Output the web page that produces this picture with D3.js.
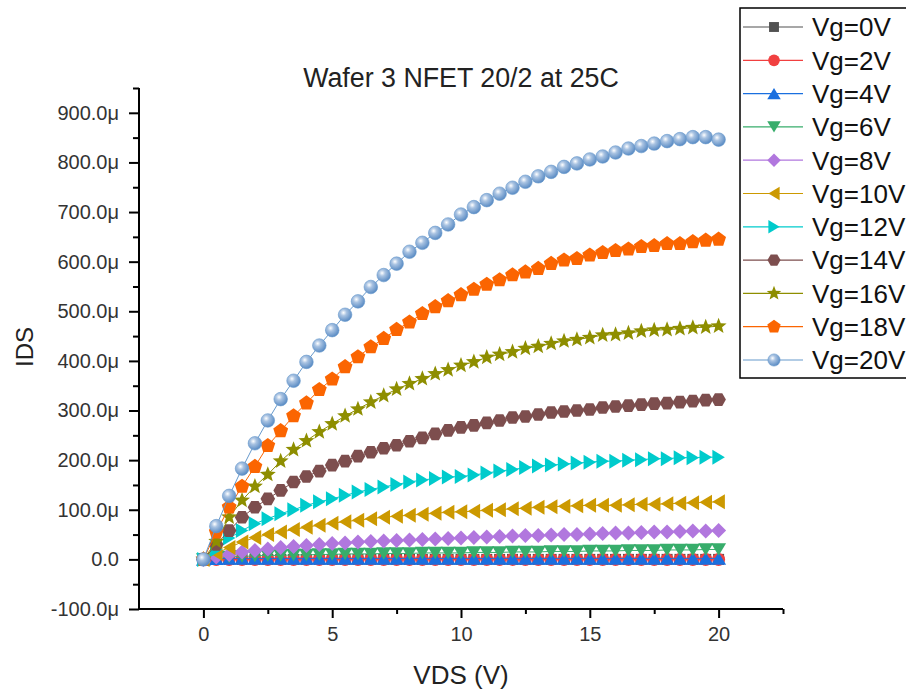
<!DOCTYPE html>
<html>
<head>
<meta charset="utf-8">
<script src="https://cdn.jsdelivr.net/npm/d3@7"></script>
<style>
  html, body { margin: 0; padding: 0; background: #fff; }
  svg { display: block; font-family: "Liberation Sans", Arial, sans-serif; }
</style>
</head>
<body>
<svg id="chart" width="906" height="691"></svg>
<script>
// ---------------- DATA ----------------
const title = "Wafer 3 NFET 20/2 at 25C";
const xLabel = "VDS (V)";
const yLabel = "IDS";
const vds = [0, 0.5, 1, 1.5, 2, 2.5, 3, 3.5, 4, 4.5, 5, 5.5, 6, 6.5, 7, 7.5, 8, 8.5, 9, 9.5,
             10, 10.5, 11, 11.5, 12, 12.5, 13, 13.5, 14, 14.5, 15, 15.5, 16, 16.5, 17, 17.5,
             18, 18.5, 19, 19.5, 20];
const seriesNames = ["Vg=0V", "Vg=2V", "Vg=4V", "Vg=6V", "Vg=8V", "Vg=10V",
                     "Vg=12V", "Vg=14V", "Vg=16V", "Vg=18V", "Vg=20V"];
// IDS in microamps
const ids0V  = [0,0,0,0,0,0,0,0,0,0,0,0,0,0,0,0,0,0,0,0,0,0,0,0,0,0,0,0,0,0,0,0,0,0,0,0,0,0,0,0,0];
const ids2V  = [0,0,0,0,0,0,0,0,0,0,0,0,0,0,0,0,0,0,0,0,0,0,0,0,0,0,0,0,0,0,0,0,0,0,0,0,0,0,0,0,0];
const ids4V  = [0,1.5,2,2,2,2,2,2,2,2,2,2,2,2,2,2,2,2,2,2,2,2,2,2,2,2,2,2,2,2,2,2,2,2,2,2,2,2,2,2,2];
const ids6V  = [0,3,5,6,7,8,8,9,9,10,10,11,11,11,12,12,12,13,13,13,13,14,14,14,15,15,15,16,16,16,17,17,17,18,18,18,19,19,19,20,20];
const ids8V  = [0,5,10,15,18,21,24,26,28,30,32,33,35,36,37,38,39,40,41,42,43,44,45,46,47,48,48,49,50,50,51,52,53,53,54,55,55,56,57,57,58];
const ids10V = [0,12,24,35,44,50,55,60,65,69,73,76,79,82,85,87,89,91,93,95,96,97,99,100,102,103,105,106,107,108,109,109,109,110,111,111,112,113,114,115,116];
const ids12V = [0,20,43,58,72,82,92,100,109,116,122,129,136,141,146,151,156,160,163,166,167,170,174,178,181,185,188,190,192,194,196,198,198,200,201,203,203,205,205,206,206];
const ids14V = [0,30,58,85,105,122,139,156,167,178,190,198,208,216,224,230,238,245,253,260,266,270,275,280,286,288,292,296,298,300,302,306,308,310,312,314,315,317,319,321,322];
const ids16V = [0,36,85,119,147,171,198,221,239,257,273,289,303,317,330,343,354,364,374,382,391,398,407,413,418,425,429,435,440,443,447,452,453,456,460,462,463,465,467,468,470];
const ids18V = [0,55,105,147,187,229,259,289,315,342,363,388,408,428,445,463,478,495,509,521,533,544,554,563,573,579,586,596,603,606,613,618,622,625,630,632,636,636,640,643,645];
const ids20V = [0,67,128,183,234,280,323,360,398,431,462,493,520,549,573,596,620,638,658,675,695,710,724,737,749,761,772,781,791,798,806,812,820,828,833,838,843,847,851,851,846];
const seriesValues = [ids0V, ids2V, ids4V, ids6V, ids8V, ids10V, ids12V, ids14V, ids16V, ids18V, ids20V];
const seriesColors = ["#515151", "#F14040", "#1A6FDF", "#37AD6B", "#B177DE", "#CC9900",
                      "#00CBCC", "#7D4E4E", "#8E8E00", "#FB6501", "#6699CC"];
const seriesMarkers = ["square", "circle", "triUp", "triDown", "diamond", "triLeft",
                       "triRight", "hexagon", "star", "pentagon", "sphere"];
const xTicks = [0, 5, 10, 15, 20];
const xMinorTicks = [2.5, 7.5, 12.5, 17.5, 22.5];
const yTicks = [-100, 0, 100, 200, 300, 400, 500, 600, 700, 800, 900];
const yMinorTicks = [-50, 50, 150, 250, 350, 450, 550, 650, 750, 850, 950];

// ---------------- CHART ----------------
const svg = d3.select("#chart");
const x = d3.scaleLinear().domain([-2.5, 22.5]).range([139, 783]);
const y = d3.scaleLinear().domain([-100, 950]).range([609, 88]);

const defs = svg.append("defs");
const grad = defs.append("radialGradient").attr("id", "sphereGrad")
  .attr("cx", "38%").attr("cy", "35%").attr("r", "65%");
grad.append("stop").attr("offset", "0%").attr("stop-color", "#ffffff");
grad.append("stop").attr("offset", "35%").attr("stop-color", "#a9c3e2");
grad.append("stop").attr("offset", "100%").attr("stop-color", "#5b8cc4");

function poly(pts) { return "M" + pts.map(p => p[0].toFixed(2) + "," + p[1].toFixed(2)).join("L") + "Z"; }
function regular(n, r, start) {
  const pts = [];
  for (let i = 0; i < n; i++) {
    const a = start + i * 2 * Math.PI / n;
    pts.push([r * Math.cos(a), r * Math.sin(a)]);
  }
  return poly(pts);
}
function markerPath(type, k) {
  const w = 15 * k, h = 12.5 * k;
  switch (type) {
    case "square": return poly([[-5.5 * k, -5.5 * k], [5.5 * k, -5.5 * k], [5.5 * k, 5.5 * k], [-5.5 * k, 5.5 * k]]);
    case "triUp": return poly([[0, -h / 2], [w / 2, h / 2], [-w / 2, h / 2]]);
    case "triDown": return poly([[0, h / 2], [w / 2, -h / 2], [-w / 2, -h / 2]]);
    case "triLeft": return poly([[-h / 2, 0], [h / 2, -w / 2], [h / 2, w / 2]]);
    case "triRight": return poly([[h / 2, 0], [-h / 2, -w / 2], [-h / 2, w / 2]]);
    case "diamond": return poly([[0, -7.5 * k], [7.5 * k, 0], [0, 7.5 * k], [-7.5 * k, 0]]);
    case "hexagon": return regular(6, 7.3 * k, 0);
    case "pentagon": return regular(5, 7.8 * k, -Math.PI / 2);
    case "star": {
      const pts = [];
      for (let i = 0; i < 10; i++) {
        const a = -Math.PI / 2 + i * Math.PI / 5;
        const r = (i % 2 === 0 ? 8.4 : 3.6) * k;
        pts.push([r * Math.cos(a), r * Math.sin(a)]);
      }
      return poly(pts);
    }
    default: return null;
  }
}
function drawMarker(g, type, color, cx, cy, k) {
  if (type === "circle") {
    g.append("circle").attr("cx", cx).attr("cy", cy).attr("r", 6.5 * k).attr("fill", color);
  } else if (type === "sphere") {
    g.append("circle").attr("cx", cx).attr("cy", cy).attr("r", 6.8 * k)
      .attr("fill", "url(#sphereGrad)").attr("stroke", color).attr("stroke-width", 0.6);
  } else {
    g.append("path").attr("d", markerPath(type, k))
      .attr("transform", `translate(${cx},${cy})`).attr("fill", color);
  }
}

// Axes
const yAxis = d3.axisLeft(y).tickValues(yTicks).tickSize(10).tickPadding(10)
  .tickFormat(d => d === 0 ? "0.0" : d.toFixed(1) + "\u03BC");
const yAxisMinor = d3.axisLeft(y).tickValues(yMinorTicks).tickSize(6).tickFormat("");
const xAxis = d3.axisBottom(x).tickValues(xTicks).tickSize(9).tickPadding(9).tickFormat(d3.format("d"));
const xAxisMinor = d3.axisBottom(x).tickValues(xMinorTicks).tickSize(5).tickFormat("");

function styleAxis(g) {
  g.select(".domain").attr("stroke", "#000").attr("stroke-width", 2);
  g.selectAll(".tick line").attr("stroke", "#000").attr("stroke-width", 2);
  g.selectAll(".tick text").attr("fill", "#333").attr("font-size", 20)
    .attr("font-family", "'Liberation Sans', Arial, sans-serif");
}
const gyMinor = svg.append("g").attr("transform", "translate(139,0)").call(yAxisMinor);
styleAxis(gyMinor); gyMinor.select(".domain").remove();
const gy = svg.append("g").attr("transform", "translate(139,0)").call(yAxis);
styleAxis(gy);
gy.select(".domain").attr("d", `M0,${y(950)}V${y(-100)}`);
const gxMinor = svg.append("g").attr("transform", "translate(0,609)").call(xAxisMinor);
styleAxis(gxMinor); gxMinor.select(".domain").remove();
const gx = svg.append("g").attr("transform", "translate(0,609)").call(xAxis);
styleAxis(gx);
gx.select(".domain").attr("d", `M${x(-2.5)},0H${x(22.5)}`);

// Series
const plot = svg.append("g");
seriesValues.forEach((vals, si) => {
  const color = seriesColors[si];
  const pts = vds.map((v, i) => [v, vals[i]]);
  const line = d3.line().x(d => x(d[0])).y(d => y(d[1]));
  plot.append("path").datum(pts).attr("d", line).attr("fill", "none")
    .attr("stroke", color).attr("stroke-width", 1);
  const mg = plot.append("g");
  pts.forEach(d => drawMarker(mg, seriesMarkers[si], color, x(d[0]), y(d[1]), 1));
});

// Titles
svg.append("text").attr("x", 461).attr("y", 87).attr("text-anchor", "middle")
  .attr("font-size", 26.8).attr("fill", "#222").text(title);
svg.append("text").attr("x", 461).attr("y", 684).attr("text-anchor", "middle")
  .attr("font-size", 26).attr("fill", "#222").text(xLabel);
svg.append("text").attr("transform", "translate(33,347) rotate(-90)").attr("text-anchor", "middle")
  .attr("font-size", 24).attr("fill", "#222").text(yLabel);

// Legend
const lg = svg.append("g");
lg.append("rect").attr("x", 740).attr("y", 8).attr("width", 200).attr("height", 370)
  .attr("fill", "#fff").attr("stroke", "#000").attr("stroke-width", 1.5);
seriesNames.forEach((name, i) => {
  const cy = 27 + i * 33.3;
  lg.append("line").attr("x1", 743).attr("x2", 803).attr("y1", cy).attr("y2", cy)
    .attr("stroke", seriesColors[i]).attr("stroke-width", 1.2);
  drawMarker(lg, seriesMarkers[i], seriesColors[i], 774, cy, 0.9);
  lg.append("text").attr("x", 812).attr("y", cy + 9.3).attr("font-size", 26)
    .attr("fill", "#111").text(name);
});
</script>
</body>
</html>
